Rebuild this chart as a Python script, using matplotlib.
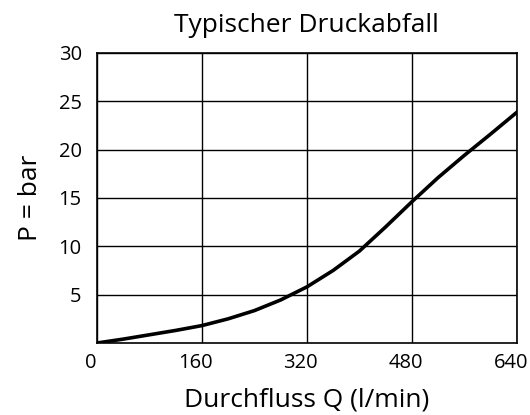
import matplotlib
matplotlib.use("Agg")
import matplotlib.pyplot as plt
from matplotlib.transforms import ScaledTranslation

plt.rcParams['font.family'] = ['Open Sans', 'DejaVu Sans']

# Durchfluss Q (l/min) vs. Druckabfall P (bar)
flow = [0, 40, 80, 120, 160, 200, 240, 280, 320, 360, 400, 440, 480, 520, 560, 600, 640]
pressure = [0, 0.4, 0.85, 1.3, 1.8, 2.5, 3.35, 4.45, 5.8, 7.5, 9.5, 12.0, 14.6, 17.1, 19.4, 21.6, 23.85]

x_ticks = [0, 160, 320, 480, 640]
y_ticks = [5, 10, 15, 20, 25, 30]

fig = plt.figure(figsize=(5.3, 4.15), dpi=100)
ax = fig.add_axes([0.183, 0.1735, 0.792, 0.699])

ax.plot(flow, pressure, color='black', linewidth=2.6, solid_joinstyle='round', zorder=3)

ax.set_xlim(0, 640)
ax.set_ylim(0, 30)
ax.set_xticks(x_ticks)
ax.set_yticks(y_ticks)
ax.grid(True, color='black', linewidth=1.0)
ax.tick_params(length=0, labelsize=14.5)
ax.tick_params(axis='x', pad=7)
ax.tick_params(axis='y', pad=11)
for s in ax.spines.values():
    s.set_linewidth(1.2)

# nudge x tick labels slightly left like the reference
shift = ScaledTranslation(-6 / 100, 0, fig.dpi_scale_trans)
for lab in ax.get_xticklabels():
    lab.set_transform(lab.get_transform() + shift)

ax.set_title('Typischer Druckabfall', fontsize=19, pad=15)
ax.set_xlabel('Durchfluss Q (l/min)', fontsize=19, labelpad=11)
ax.set_ylabel('P = bar', fontsize=19, labelpad=11)

fig.savefig('out.png', dpi=100)
